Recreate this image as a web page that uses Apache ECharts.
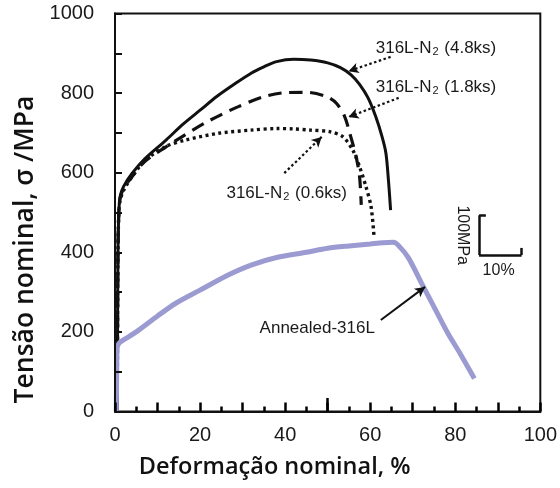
<!DOCTYPE html>
<html>
<head>
<meta charset="utf-8">
<script src="https://cdn.jsdelivr.net/npm/echarts@6/dist/echarts.min.js"></script>
<style>html,body{margin:0;padding:0;background:#fff}#c{width:560px;height:488px}</style>
</head>
<body>
<div id="c"></div>
<script>
// ---- data ----
const strain48 = [0.5,0.6,0.7,0.9,1.2,2,4,7,12,16,20,24,28,32,35,38,42,46,50,53,55.5,57.5,59.5,61.3,62.8,63.7,64.3,64.8];
const stress48 = [0,200,400,500,540,565,598,635,682,722,757,792,822,850,866,879,885,883,876,864,846,822,788,741,690,649,580,506];

const strain18 = [0.5,0.6,0.7,0.9,1.2,2,4,7,12,16,21,25,29,35,40,45,49.8,52.1,54,55.2,56.7,57.5,57.9];
const stress18 = [0,200,400,500,535,560,590,628,665,692,724,746,766,791,801,802,791,774,741,699,640,590,519];

const strain06 = [0.5,0.6,0.7,0.9,1.2,2,4,7,12,16.6,24.3,32,38,42,45.9,50.5,53.6,55.9,57.5,59,60.2,60.9];
const stress06 = [0,200,400,500,530,555,590,630,666,682,699,707,711,710,707,703,690,657,615,565,515,440];

const strainAnn = [0.3,0.4,0.5,1,2,5,10,14.3,20,26.6,32,38,45,50,55,60,63,65.5,67,69,72.1,75,78.3,81,84.5];
const stressAnn = [0,100,160,172,180,200,240,272,305,343,368,387,400,410,416,421,424,425,413,386,322,263,196,148,83];

const xLabelStep = 20;
const xLongTicks = [50];

// annotations (data units)
const labelTexts = ['316L-N{s|2} (4.8ks)','316L-N{s|2} (1.8ks)','316L-N{s|2} (0.6ks)','Annealed-316L'];
const labelCoords = [[61.3,913],[61.3,815],[26.2,549],[34,210]];
const dottedArrowFrom = [[64.8,891],[66.7,788],[39.8,599]];
const dottedArrowTo = [[54.9,855],[54.9,740],[48.6,690]];
const solidArrowFrom = [62.5,230];
const solidArrowTo = [72.9,313];
const scaleCorner = [85.6,393];
const scaleY = 100; // MPa
const scaleX = 10;  // %
const scaleTexts = ['100MPa','10%'];
const scaleTextCoords = [[81.6,443],[90.2,355]];

// ---- chart ----
const zip = (a,b) => a.map((v,i)=>[v,b[i]]);
const chart = echarts.init(document.getElementById('c'), null, {renderer:'canvas'});
const black = '#111';
const lab = '#9b9bd2';
const tickFont = {fontFamily:'Liberation Sans, Arial, sans-serif', fontSize:20, color:'#1a1a1a'};
const annFont = 'Liberation Sans, Arial, sans-serif';

const markLines = [];
dottedArrowFrom.forEach((f,i)=>{
  markLines.push([
    {coord:f, symbol:'none', lineStyle:{type:[2.5,2.5], width:2.2, color:black}},
    {coord:dottedArrowTo[i], symbol:'arrow', symbolSize:[8,10]}
  ]);
});
markLines.push([
  {coord:solidArrowFrom, symbol:'none', lineStyle:{type:'solid', width:2, color:black}},
  {coord:solidArrowTo, symbol:'arrow', symbolSize:[8,10]}
]);
const c = scaleCorner;
const sbStyle = {type:'solid', width:2.5, color:black};
markLines.push([{coord:[c[0],c[1]], symbol:'none', lineStyle:sbStyle},{coord:[c[0],c[1]+scaleY], symbol:'none'}]);
markLines.push([{coord:[c[0],c[1]], symbol:'none', lineStyle:sbStyle},{coord:[c[0]+scaleX,c[1]], symbol:'none'}]);
markLines.push([{coord:[c[0],c[1]+scaleY], symbol:'none', lineStyle:sbStyle},{coord:[c[0]+1.6,c[1]+scaleY], symbol:'none'}]);
markLines.push([{coord:[c[0]+scaleX,c[1]], symbol:'none', lineStyle:sbStyle},{coord:[c[0]+scaleX,c[1]+18], symbol:'none'}]);
xLongTicks.forEach(v=>{
  markLines.push([{coord:[v,0], symbol:'none', lineStyle:{type:'solid', width:2.5, color:'#000'}},{coord:[v,34], symbol:'none'}]);
});

const markPoints = labelTexts.map((t,i)=>({
  coord: labelCoords[i], symbol:'rect', symbolSize:1, itemStyle:{color:'rgba(0,0,0,0)'},
  label:{show:true, position:'inside', align:'left', verticalAlign:'middle', formatter:t,
    fontFamily:annFont, fontSize:17, color:'#1a1a1a',
    rich:{s:{fontSize:11, fontFamily:annFont, color:'#1a1a1a', padding:[7,1,0,1]}}}
}));
markPoints.push({
  coord: scaleTextCoords[0], symbol:'rect', symbolSize:1, itemStyle:{color:'rgba(0,0,0,0)'},
  label:{show:true, position:'inside', rotate:-90, formatter:scaleTexts[0], fontFamily:annFont, fontSize:16, color:'#1a1a1a'}
});
markPoints.push({
  coord: scaleTextCoords[1], symbol:'rect', symbolSize:1, itemStyle:{color:'rgba(0,0,0,0)'},
  label:{show:true, position:'inside', formatter:scaleTexts[1], fontFamily:annFont, fontSize:16, color:'#1a1a1a'}
});

const option = {
  animation:false,
  backgroundColor:'#fff',
  grid:{left:115, top:13.5, right:13, bottom:76.5, show:true, borderColor:black, borderWidth:2, backgroundColor:'transparent'},
  xAxis:{
    type:'value', min:0, max:100, interval:10, position:'bottom', z:10,
    name:'Deformação nominal, %', nameLocation:'middle', nameGap:44,
    nameTextStyle:{fontFamily:'Open Sans, Noto Sans, sans-serif', fontSize:23.5, fontWeight:600, color:'#111', padding:[0,106,0,0]},
    axisLine:{show:true, onZero:false, lineStyle:{color:black, width:2}},
    axisTick:{show:true, inside:true, length:9, lineStyle:{color:'#000', width:2.5}},
    minorTick:{show:true, splitNumber:2, length:5, lineStyle:{color:'#000', width:2.5}},
    axisLabel:Object.assign({margin:14, formatter:v => (v % xLabelStep === 0 ? String(v) : '')}, tickFont),
    splitLine:{show:false}
  },
  yAxis:{
    type:'value', min:0, max:1000, interval:200, z:10,
    name:'Tensão nominal, σ /MPa', nameLocation:'middle', nameGap:72,
    nameTextStyle:{fontFamily:'Open Sans, Noto Sans, sans-serif', fontSize:26.5, fontWeight:600, color:'#111', padding:[0,74,0,0]},
    axisLine:{show:true, onZero:false, lineStyle:{color:black, width:2}},
    axisTick:{show:true, inside:true, length:7, lineStyle:{color:black, width:2}},
    minorTick:{show:true, splitNumber:2, length:7, lineStyle:{color:black, width:2}},
    axisLabel:Object.assign({margin:21, formatter:v => String(v)}, tickFont),
    splitLine:{show:false}
  },
  series:[
    {name:'316L-N2 (4.8ks)', type:'line', data:zip(strain48,stress48), showSymbol:false, smooth:0.3,
     lineStyle:{color:black, width:3}, z:2},
    {name:'316L-N2 (1.8ks)', type:'line', data:zip(strain18,stress18), showSymbol:false, smooth:0.3,
     lineStyle:{color:black, width:3.2, type:[13,8]}, z:2},
    {name:'316L-N2 (0.6ks)', type:'line', data:zip(strain06,stress06), showSymbol:false, smooth:0.3,
     lineStyle:{color:black, width:3.4, type:[3,3.5]}, z:2},
    {name:'Annealed-316L', type:'line', data:zip(strainAnn,stressAnn), showSymbol:false, smooth:0.3,
     lineStyle:{color:lab, width:5}, z:3},
    {name:'annotations', type:'line', data:[], z:4, silent:true,
     markLine:{silent:true, animation:false, symbol:['none','arrow'], label:{show:false}, data:markLines},
     markPoint:{silent:true, animation:false, data:markPoints}}
  ]
};
chart.setOption(option);
</script>
</body>
</html>
